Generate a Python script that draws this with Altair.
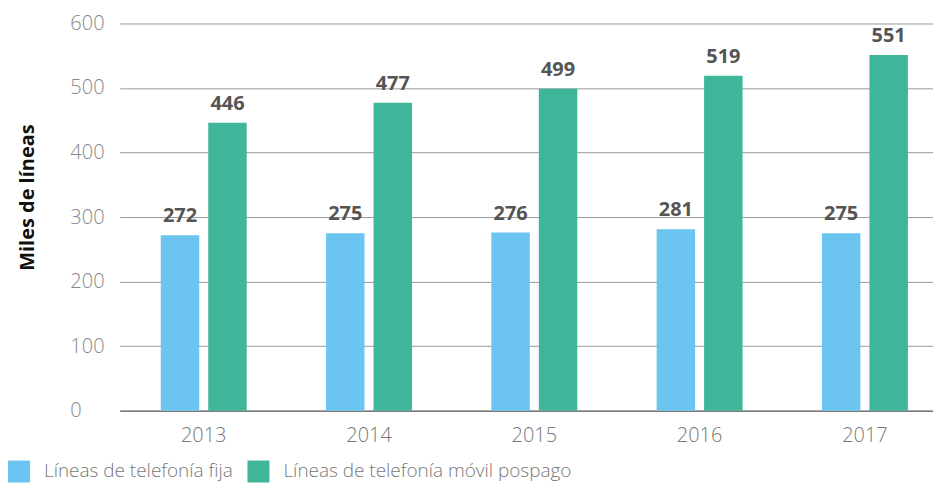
import altair as alt
import pandas as pd

years = ["2013", "2014", "2015", "2016", "2017"]
fija = [272, 275, 276, 281, 275]
movil = [446, 477, 499, 519, 551]
series = ["Líneas de telefonía fija", "Líneas de telefonía móvil pospago"]
colors = ["#6CC5F0", "#3FB59A"]

rows = []
for i, y in enumerate(years):
    rows.append({"year": y, "serie": series[0], "value": fija[i]})
    rows.append({"year": y, "serie": series[1], "value": movil[i]})
df = pd.DataFrame(rows)

FONT = "Open Sans"

x = alt.X("year:N", title=None,
          scale=alt.Scale(paddingInner=0.48, paddingOuter=0.2, align=0.62),
          axis=alt.Axis(labelAngle=0, labelFontSize=20, labelColor="#777",
                        labelFont=FONT, labelFontWeight=300, ticks=False,
                        domain=True, domainColor="#555", labelPadding=15))
xo = alt.XOffset("serie:N", scale=alt.Scale(paddingInner=0.19, paddingOuter=0),
                 sort=series)

base = alt.Chart(df)

bars = base.mark_bar().encode(
    x=x,
    xOffset=xo,
    y=alt.Y("value:Q", title="Miles de líneas",
            scale=alt.Scale(domain=[0, 600], nice=False),
            axis=alt.Axis(values=[0, 100, 200, 300, 400, 500, 600],
                          labelAlign="left", labelPadding=50, ticks=False,
                          domain=False, grid=True, gridColor="#999",
                          labelFontSize=20, labelColor="#888", labelFont=FONT,
                          labelFontWeight=300, labelBaseline="middle",
                          titleFont=FONT, titleFontSize=20, titleFontWeight="bold",
                          titleColor="#111", titleX=-82, titleY=174)),
    color=alt.Color("serie:N", sort=series,
                    scale=alt.Scale(domain=series, range=colors),
                    legend=alt.Legend(title=None, orient="none", direction="horizontal",
                                      legendX=-112, legendY=438,
                                      symbolType="square", symbolSize=484,
                                      symbolStrokeWidth=0, symbolOpacity=1,
                                      labelFontSize=19, labelColor="#777",
                                      labelFont=FONT, labelFontWeight=300,
                                      labelLimit=400,
                                      columnPadding=14, labelOffset=14)),
)

labels = base.mark_text(fontSize=20, fontWeight="bold", color="#555",
                        font=FONT, baseline="bottom", dy=-9).encode(
    x=alt.X("year:N"),
    xOffset=xo,
    y=alt.Y("value:Q"),
    text=alt.Text("value:Q"),
)

chart = (bars + labels).properties(
    width=815, height=388,
    padding={"left": 0, "top": 5, "right": 0, "bottom": 0},
).configure_view(stroke=None).configure_axis(gridOpacity=1)

chart.save("out.html", embed_options={"renderer": "svg", "actions": False})
